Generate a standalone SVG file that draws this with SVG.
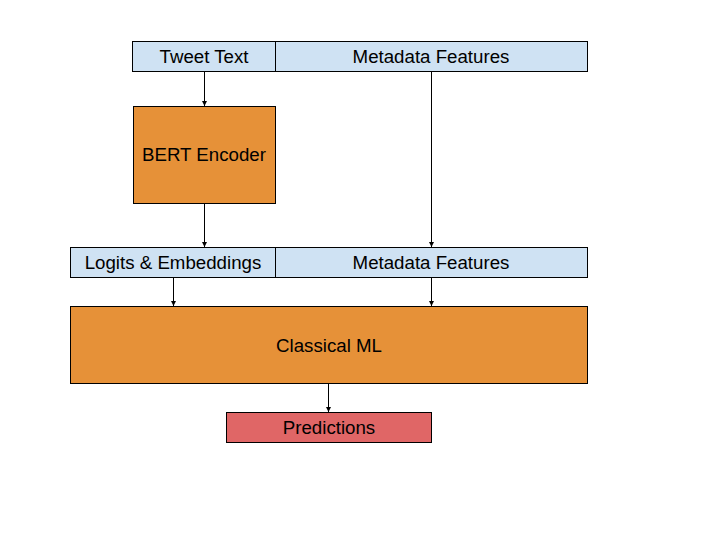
<svg xmlns="http://www.w3.org/2000/svg" width="720" height="540" viewBox="0 0 720 540">
<style>
.box{stroke:#000;stroke-width:1}
.blue{fill:#cfe2f3}
.orange{fill:#e69138}
.red{fill:#e06666}
text{font-family:"Liberation Sans",Arial,sans-serif;font-size:18.7px;fill:#000;text-anchor:middle;dominant-baseline:central}
.conn{stroke:#000;stroke-width:1;fill:none;marker-end:url(#ah)}
</style>
<defs>
<marker id="ah" markerWidth="6" markerHeight="6" refX="5" refY="3" orient="auto" markerUnits="userSpaceOnUse">
<path d="M0,0.5 L5,3 L0,5.5 z" fill="#000"/>
</marker>
</defs>
<rect width="720" height="540" fill="#fff"/>
<g id="tweet-text"><rect class="box blue" x="132.5" y="41.5" width="143" height="30"/><text x="204" y="56">Tweet Text</text></g>
<g id="metadata-top"><rect class="box blue" x="275.5" y="41.5" width="312" height="30"/><text x="431" y="56">Metadata Features</text></g>
<g id="bert"><rect class="box orange" x="133.5" y="106.5" width="142" height="97"/><text x="204" y="154">BERT Encoder</text></g>
<g id="logits"><rect class="box blue" x="70.5" y="247.5" width="205" height="30"/><text x="173" y="262">Logits &amp; Embeddings</text></g>
<g id="metadata-mid"><rect class="box blue" x="275.5" y="247.5" width="312" height="30"/><text x="431" y="262">Metadata Features</text></g>
<g id="classical-ml"><rect class="box orange" x="70.5" y="306.5" width="517" height="77"/><text x="329" y="345">Classical ML</text></g>
<g id="predictions"><rect class="box red" x="226.5" y="412.5" width="205" height="30"/><text x="329" y="427">Predictions</text></g>
<g id="connectors">
<line class="conn" x1="204.5" y1="71.5" x2="204.5" y2="106"/>
<line class="conn" x1="431.5" y1="71.5" x2="431.5" y2="247"/>
<line class="conn" x1="204.5" y1="203.5" x2="204.5" y2="247"/>
<line class="conn" x1="173.5" y1="277.5" x2="173.5" y2="306"/>
<line class="conn" x1="431.5" y1="277.5" x2="431.5" y2="306"/>
<line class="conn" x1="328.5" y1="383.5" x2="328.5" y2="412"/>
</g>
</svg>
